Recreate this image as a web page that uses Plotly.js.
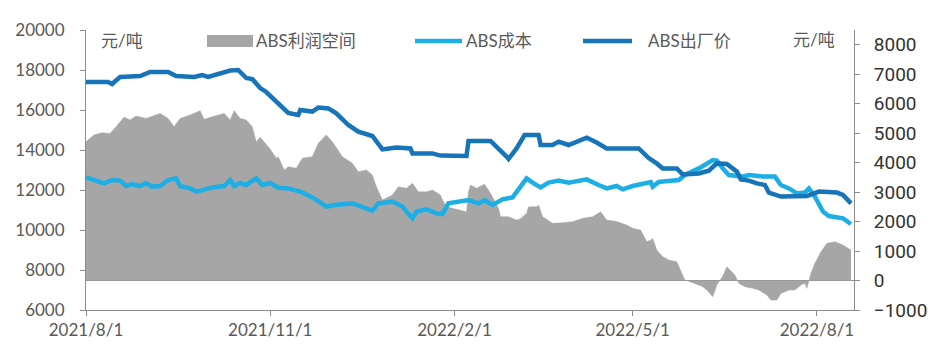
<!DOCTYPE html>
<html>
<head>
<meta charset="utf-8">
<script src="https://cdn.plot.ly/plotly-3.0.1.min.js"></script>
<style>html,body{margin:0;padding:0;background:#fff}#chart{width:943px;height:360px}</style>
</head>
<body>
<div id="chart"></div>
<script>
// ABS出厂价 (left axis, 元/吨)
const priceDates = ['2021-08-01','2021-08-12','2021-08-14','2021-08-18','2021-08-28','2021-09-02','2021-09-11','2021-09-15','2021-09-24','2021-09-28','2021-10-01','2021-10-12','2021-10-16','2021-10-20','2021-10-23','2021-10-27','2021-10-30','2021-11-05','2021-11-10','2021-11-15','2021-11-16','2021-11-22','2021-11-25','2021-11-30','2021-12-04','2021-12-10','2021-12-15','2021-12-22','2021-12-27','2022-01-03','2022-01-10','2022-01-11','2022-01-21','2022-01-25','2022-02-07','2022-02-08','2022-02-19','2022-02-27','2022-02-28','2022-03-04','2022-03-08','2022-03-15','2022-03-16','2022-03-22','2022-03-25','2022-03-30','2022-04-08','2022-04-13','2022-04-18','2022-05-04','2022-05-09','2022-05-13','2022-05-16','2022-05-23','2022-05-26','2022-06-03','2022-06-08','2022-06-12','2022-06-17','2022-06-22','2022-06-24','2022-06-28','2022-07-02','2022-07-06','2022-07-08','2022-07-14','2022-07-27','2022-08-02','2022-08-11','2022-08-14','2022-08-18'];
const priceValues = [17400,17400,17300,17650,17700,17900,17900,17700,17650,17750,17650,17970,18000,17600,17550,17100,16900,16300,15850,15750,16000,15920,16120,16080,15830,15250,14920,14700,14030,14130,14080,13830,13830,13720,13700,14450,14450,13670,13550,14080,14750,14750,14250,14250,14420,14250,14620,14370,14080,14080,13600,13330,13080,13080,12780,12830,12970,13330,13300,12920,12530,12470,12330,12250,11870,11670,11700,11920,11870,11750,11330];

// ABS成本 (left axis, 元/吨)
const costDates = ['2021-08-01','2021-08-08','2021-08-10','2021-08-14','2021-08-18','2021-08-21','2021-08-24','2021-08-28','2021-08-31','2021-09-03','2021-09-07','2021-09-11','2021-09-15','2021-09-17','2021-09-22','2021-09-25','2021-09-29','2021-10-03','2021-10-09','2021-10-12','2021-10-14','2021-10-17','2021-10-20','2021-10-25','2021-10-28','2021-11-01','2021-11-05','2021-11-10','2021-11-16','2021-11-23','2021-11-29','2021-12-03','2021-12-12','2021-12-17','2021-12-22','2021-12-25','2022-01-01','2022-01-06','2022-01-11','2022-01-13','2022-01-18','2022-01-23','2022-01-26','2022-01-29','2022-02-03','2022-02-08','2022-02-13','2022-02-16','2022-02-20','2022-02-25','2022-03-02','2022-03-05','2022-03-09','2022-03-12','2022-03-16','2022-03-20','2022-03-25','2022-03-30','2022-04-08','2022-04-14','2022-04-18','2022-04-23','2022-04-26','2022-05-01','2022-05-06','2022-05-10','2022-05-11','2022-05-14','2022-05-16','2022-05-24','2022-05-27','2022-06-03','2022-06-10','2022-06-12','2022-06-15','2022-06-18','2022-06-25','2022-06-28','2022-07-05','2022-07-11','2022-07-14','2022-07-18','2022-07-22','2022-07-26','2022-07-28','2022-07-31','2022-08-04','2022-08-07','2022-08-14','2022-08-18'];
const costValues = [12630,12420,12330,12500,12470,12200,12300,12200,12350,12170,12200,12500,12580,12200,12080,11920,12030,12130,12200,12500,12200,12350,12250,12580,12250,12350,12110,12080,11920,11580,11170,11250,11330,11170,10970,11330,11420,11170,10580,10920,11030,10830,10800,11330,11420,11500,11330,11500,11250,11530,11630,12080,12580,12370,12130,12370,12470,12370,12530,12250,12080,12200,12030,12200,12300,12400,12170,12400,12420,12500,12750,13080,13500,13470,13080,12750,12670,12750,12670,12670,12250,12080,11830,11870,12080,11670,10920,10700,10580,10300];

// ABS利润空间 (right axis, 元/吨)
const profitDates = ['2021-08-01','2021-08-05','2021-08-09','2021-08-13','2021-08-16','2021-08-20','2021-08-23','2021-08-26','2021-08-31','2021-09-07','2021-09-11','2021-09-14','2021-09-17','2021-09-22','2021-09-27','2021-09-29','2021-10-03','2021-10-09','2021-10-12','2021-10-14','2021-10-17','2021-10-20','2021-10-23','2021-10-25','2021-10-27','2021-11-01','2021-11-04','2021-11-05','2021-11-08','2021-11-10','2021-11-14','2021-11-17','2021-11-22','2021-11-25','2021-11-29','2021-12-02','2021-12-07','2021-12-12','2021-12-15','2021-12-19','2021-12-22','2021-12-24','2021-12-27','2022-01-01','2022-01-04','2022-01-08','2022-01-11','2022-01-14','2022-01-18','2022-01-21','2022-01-25','2022-01-26','2022-01-28','2022-02-02','2022-02-07','2022-02-08','2022-02-09','2022-02-12','2022-02-16','2022-02-19','2022-02-23','2022-02-24','2022-02-28','2022-03-04','2022-03-06','2022-03-09','2022-03-10','2022-03-14','2022-03-15','2022-03-17','2022-03-22','2022-03-27','2022-04-01','2022-04-06','2022-04-11','2022-04-15','2022-04-18','2022-04-23','2022-04-28','2022-05-01','2022-05-05','2022-05-08','2022-05-10','2022-05-11','2022-05-13','2022-05-16','2022-05-19','2022-05-23','2022-05-25','2022-05-27','2022-05-31','2022-06-05','2022-06-07','2022-06-10','2022-06-12','2022-06-15','2022-06-17','2022-06-21','2022-06-23','2022-06-26','2022-06-30','2022-07-03','2022-07-07','2022-07-09','2022-07-12','2022-07-14','2022-07-18','2022-07-21','2022-07-24','2022-07-26','2022-07-27','2022-07-29','2022-07-31','2022-08-03','2022-08-06','2022-08-10','2022-08-14','2022-08-17','2022-08-18'];
const profitValues = [4710,4940,5015,4990,5220,5540,5450,5580,5500,5670,5500,5220,5500,5615,5760,5470,5560,5670,5450,5760,5500,5450,5220,4710,4860,4450,4150,4200,3750,3860,3810,4150,4200,4655,4940,4710,4200,3980,3690,3750,3580,3180,2730,2900,3180,3130,3300,3010,3010,3070,2900,2730,2500,2420,2330,3010,3240,3130,3270,2960,2450,2165,2165,2050,2100,2280,2500,2500,2560,2165,1940,1960,1995,2110,2165,2330,2050,2000,1880,1770,1710,1320,1370,1430,1035,808,696,638,356,17,-75,-210,-322,-550,-153,153,468,187,-95,-210,-265,-322,-492,-662,-662,-436,-322,-322,-153,-95,-265,244,584,977,1262,1317,1205,1092,1035];

const xTickVals = ['2021-08-01','2021-11-01','2022-02-01','2022-05-01','2022-08-01'];
const xTickText = ['2021/8/1','2021/11/1','2022/2/1','2022/5/1','2022/8/1'];
const leftTicks = [6000,8000,10000,12000,14000,16000,18000,20000];
const rightTicks = [-1000,0,1000,2000,3000,4000,5000,6000,7000,8000];
const seriesNames = ['ABS利润空间','ABS成本','ABS出厂价'];
const unitLabel = '元/吨';

const FONT = 'Lato, "Noto Sans CJK SC", sans-serif';
const GRAY_TXT = '#595959';
const AXIS = '#8c8c8c';
const C_PROFIT = '#a6a6a6';
const C_COST = '#1eaee6';
const C_PRICE = '#1874b8';

// area on the base (right-side) axis, lines on the overlaying (left-side) axis so they draw on top
const traces = [
  {x: profitDates, y: profitValues, name: seriesNames[0], type: 'scatter', mode: 'lines',
   yaxis: 'y', fill: 'tozeroy', fillcolor: C_PROFIT, line: {color: C_PROFIT, width: 0.5}},
  {x: costDates, y: costValues, name: seriesNames[1], type: 'scatter', mode: 'lines',
   yaxis: 'y2', line: {color: C_COST, width: 4.5}},
  {x: priceDates, y: priceValues, name: seriesNames[2], type: 'scatter', mode: 'lines',
   yaxis: 'y2', line: {color: C_PRICE, width: 4.5}}
];

const px = v => (v - 86) / 768;
const py = v => (310 - v) / 280;

const layout = {
  width: 943, height: 360,
  margin: {l: 86, r: 89, t: 30, b: 50},
  paper_bgcolor: '#fff', plot_bgcolor: '#fff',
  showlegend: false,
  font: {family: FONT, color: GRAY_TXT, size: 17},
  xaxis: {
    type: 'date', range: ['2021-08-01', '2022-08-19 12:00'],
    tickvals: xTickVals, ticktext: xTickText,
    ticks: 'outside', ticklen: 5, tickcolor: AXIS,
    showline: true, linecolor: AXIS, linewidth: 1,
    showgrid: false, zeroline: false,
    tickfont: {family: FONT, size: 17, color: GRAY_TXT}
  },
  yaxis: {
    side: 'right',
    range: [-1000, 8500], tickvals: rightTicks, tickformat: 'd',
    ticks: 'outside', ticklen: 5, tickcolor: AXIS,
    showline: true, linecolor: AXIS, linewidth: 1,
    showgrid: false, zeroline: true, zerolinecolor: AXIS, zerolinewidth: 1,
    ticklabelstandoff: 10,
    tickfont: {family: 'Roboto, sans-serif', size: 19, color: '#333'}
  },
  yaxis2: {
    overlaying: 'y', side: 'left',
    range: [6000, 20000], tickvals: leftTicks, tickformat: 'd',
    ticks: 'outside', ticklen: 5, tickcolor: AXIS,
    showline: true, linecolor: AXIS, linewidth: 1,
    showgrid: false, zeroline: false, ticklabelstandoff: 12,
    tickfont: {family: FONT, size: 17, color: GRAY_TXT}
  },
  shapes: [
    {type: 'rect', xref: 'paper', yref: 'paper', x0: px(207), x1: px(253), y0: py(47), y1: py(35),
     fillcolor: C_PROFIT, line: {width: 0}, layer: 'above'},
    {type: 'line', xref: 'paper', yref: 'paper', x0: px(415), x1: px(462), y0: py(41), y1: py(41),
     line: {color: C_COST, width: 4.5}, layer: 'above'},
    {type: 'line', xref: 'paper', yref: 'paper', x0: px(583), x1: px(632), y0: py(41), y1: py(41),
     line: {color: C_PRICE, width: 4.5}, layer: 'above'}
  ],
  annotations: [
    {xref: 'paper', yref: 'paper', x: px(254), y: py(41), xanchor: 'left', yanchor: 'middle',
     text: seriesNames[0], showarrow: false, font: {size: 17, color: GRAY_TXT}},
    {xref: 'paper', yref: 'paper', x: px(464), y: py(41), xanchor: 'left', yanchor: 'middle',
     text: seriesNames[1], showarrow: false, font: {size: 17, color: GRAY_TXT}},
    {xref: 'paper', yref: 'paper', x: px(646), y: py(41), xanchor: 'left', yanchor: 'middle',
     text: seriesNames[2], showarrow: false, font: {size: 17, color: GRAY_TXT}},
    {xref: 'paper', yref: 'paper', x: px(99), y: py(40), xanchor: 'left', yanchor: 'middle',
     text: unitLabel, showarrow: false, font: {size: 17, color: GRAY_TXT}},
    {xref: 'paper', yref: 'paper', x: px(791), y: py(39), xanchor: 'left', yanchor: 'middle',
     text: unitLabel, showarrow: false, font: {size: 17, color: GRAY_TXT}}
  ]
};

Plotly.newPlot('chart', traces, layout, {displayModeBar: false, staticPlot: true});
</script>
</body>
</html>
